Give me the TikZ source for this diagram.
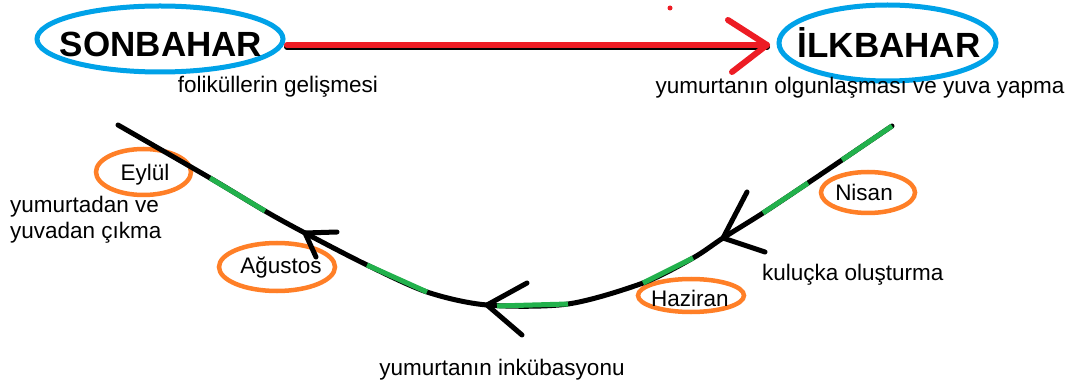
\documentclass[tikz,border=0pt]{standalone}
\usepackage{fontspec}
\setmainfont{Liberation Sans}
\usetikzlibrary{shapes.geometric}
\definecolor{paintred}{HTML}{ED1C24}
\definecolor{paintblue}{HTML}{00A2E8}
\definecolor{paintorange}{HTML}{FF7F27}
\definecolor{paintgreen}{HTML}{22B14C}

\begin{document}
\begin{tikzpicture}[x=1pt,y=-1pt,
  seasontext/.style={font=\fontsize{35}{42}\selectfont\bfseries, anchor=base, inner sep=0pt},
  note/.style={font=\fontsize{22.5}{26}\selectfont, anchor=base, inner sep=0pt},
  seasonring/.style={ellipse, draw=paintblue, line width=5pt, inner sep=0pt, outer sep=0pt},
  monthring/.style={ellipse, draw=paintorange, line width=4.5pt, inner sep=0pt, outer sep=0pt},
  track/.style={line width=5pt, line cap=round, line join=round},
  greenpart/.style={line width=5pt, draw=paintgreen},
  chevron/.style={line width=5pt, line cap=round, line join=round},
  redstroke/.style={draw=paintred, line width=6pt, line cap=round, line join=round},
]
\fill[white] (0,0) rectangle (1078,387);
\useasboundingbox (0,0) rectangle (1078,387);

% season rings and month rings
\node[seasonring, minimum width=246pt, minimum height=66pt] (sonring) at (160,39) {};
\node[seasonring, minimum width=217pt, minimum height=76pt] (ilkring) at (887.5,43) {};
\node[monthring, minimum width=95pt, minimum height=46pt] (eylring) at (143.5,172) {};
\node[monthring, minimum width=116pt, minimum height=48pt] (agring) at (277,267) {};
\node[monthring, minimum width=106pt, minimum height=33pt] (hazring) at (691,295.5) {};
\node[monthring, minimum width=94pt, minimum height=41pt] (nisring) at (868,192.5) {};

% red arrow from autumn to spring
\coordinate (redstart) at ([shift={(4,6)}]sonring.east);
\coordinate (redtip) at ([shift={(-12,2)}]ilkring.west);
\coordinate (redarmA) at (728,20);
\coordinate (redarmB) at (732,72);
\draw[line width=6pt, line cap=round] ([yshift=-2pt]redstart) -- ([yshift=-2pt]redtip);
\draw[redstroke] (redstart) -- (redtip);
\draw[redstroke] (redarmA) -- (redtip) -- (redarmB);
\fill[paintred] (670,8) circle[radius=2.5pt];

% points along the yearly track
\coordinate (c0) at (118,125);
\coordinate (c1) at (210,178);
\coordinate (c2) at (265,211);
\coordinate (c3) at (305,233);
\coordinate (c4) at (367,265);
\coordinate (c5) at (427,292);
\coordinate (c6) at (487,305);
\coordinate (g6) at (497,306);
\coordinate (c7) at (568,304);
\coordinate (c8) at (643,283);
\coordinate (c9) at (693,258);
\coordinate (c10) at (723,238);
\coordinate (c11) at (763,213);
\coordinate (c12) at (808,183);
\coordinate (c13) at (842,160);
\coordinate (c14) at (892,126);

\draw[track] plot[smooth] coordinates {(c0) (c1) (c2) (c3) (c4) (c5) (c6) (c7) (c8) (c9) (c10) (c11) (c12) (c13) (c14)};
\draw[greenpart] (c1) -- (c2);
\draw[greenpart] (c4) -- (c5);
\draw[greenpart] (g6) -- (c7);
\draw[greenpart] (c8) -- (c9);
\draw[greenpart] (c11) -- (c12);
\draw[greenpart] (c13) -- (c14);

% direction marks on the track
\coordinate (armA1) at (337,232);
\coordinate (armA2) at (316,257);
\coordinate (armB1) at (527,283);
\coordinate (armB2) at (522,335);
\coordinate (armC1) at (747,192);
\coordinate (armC2) at (765,252);
\draw[chevron] (armA1) -- (c3) -- (armA2);
\draw[chevron] (armB1) -- (c6) -- (armB2);
\draw[chevron] (armC1) -- (c10) -- (armC2);

% texts
\node[seasontext] (son) at (161,57) {SONBAHAR};
\node[seasontext] (ilk) at (889,58) {İLKBAHAR};
\node[note] (fol) at (278,93) {foliküllerin gelişmesi};
\node[note] (yum) at (860,94) {yumurtanın olgunlaşması ve yuva yapma};
\node[note] (eyl) at (145,181) {Eylül};
\node[note, anchor=base west] (cik1) at (10,213) {yumurtadan ve};
\node[note, anchor=base west] (cik2) at (10,239) {yuvadan çıkma};
\node[note] (agu) at (281,273) {Ağustos};
\node[note] (inc) at (502,375) {yumurtanın inkübasyonu};
\node[note] (haz) at (690,306) {Haziran};
\node[note] (nis) at (864,201) {Nisan};
\node[note, anchor=base west] (kul) at (762,280) {kuluçka oluşturma};
\end{tikzpicture}
\end{document}
